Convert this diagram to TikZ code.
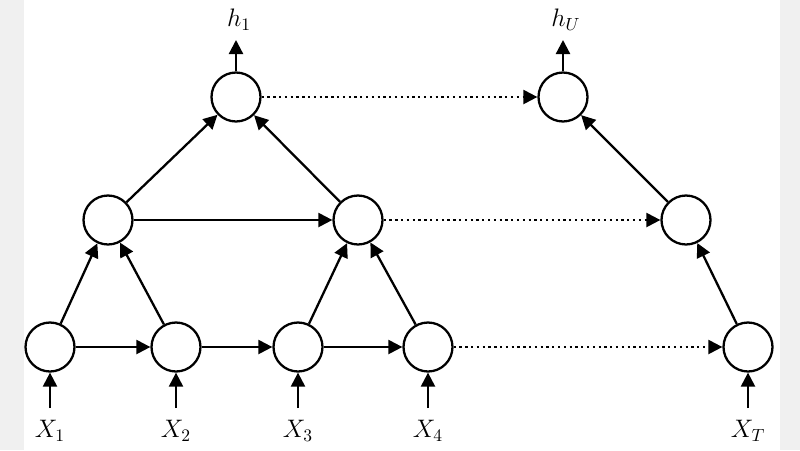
\documentclass[tikz,border=0pt]{standalone}
\usetikzlibrary{arrows.meta}
\begin{document}
\begin{tikzpicture}[x=0.02cm,y=-0.02cm,
  nd/.style={circle,draw,line width=1.3pt,minimum size=0.98cm,inner sep=0pt,fill=white},
  ar/.style={line width=1.3pt,-{Triangle[length=8pt,width=8pt]}},
  dt/.style={line width=1.3pt,dotted,-{Triangle[length=8pt,width=8pt]}},
  lb/.style={font=\Large}]
\fill[white] (0,0) rectangle (800,450);
\fill[gray!12] (0,0) rectangle (24,450);
\fill[gray!12] (780,0) rectangle (800,450);
\useasboundingbox (0,0) rectangle (800,450);
\node[nd] (b1) at (50,347) {};
\node[nd] (b2) at (176,347) {};
\node[nd] (b3) at (298,347) {};
\node[nd] (b4) at (428,347) {};
\node[nd] (b5) at (748,347) {};
\node[nd] (m1) at (108,220) {};
\node[nd] (m2) at (358,220) {};
\node[nd] (m3) at (686,220) {};
\node[nd] (t1) at (236,97) {};
\node[nd] (t2) at (563,97) {};
\foreach \n/\x/\l in {b1/50/X_1,b2/176/X_2,b3/298/X_3,b4/428/X_4,b5/748/X_T}{
  \coordinate (s\n) at (\x,408);
  \node[lb] (l\n) at (\x,431) {$\l$};
  \draw[ar] (s\n) -- (\n);
}
\coordinate (e1) at (236,40);
\coordinate (e2) at (563,40);
\node[lb] (h1) at (239,20) {$h_{\scriptstyle 1}$};
\node[lb] (hU) at (566,20) {$h_U$};
\draw[ar] (t1) -- (e1);
\draw[ar] (t2) -- (e2);
\draw[ar] (b1) -- (b2);
\draw[ar] (b2) -- (b3);
\draw[ar] (b3) -- (b4);
\draw[dt] (b4) -- (b5);
\draw[ar] (b1) -- (m1);
\draw[ar] (b2) -- (m1);
\draw[ar] (b3) -- (m2);
\draw[ar] (b4) -- (m2);
\draw[ar] (b5) -- (m3);
\draw[ar] (m1) -- (m2);
\draw[dt] (m2) -- (m3);
\draw[ar] (m1) -- (t1);
\draw[ar] (m2) -- (t1);
\draw[ar] (m3) -- (t2);
\draw[dt] (t1) -- (t2);
\end{tikzpicture}
\end{document}
